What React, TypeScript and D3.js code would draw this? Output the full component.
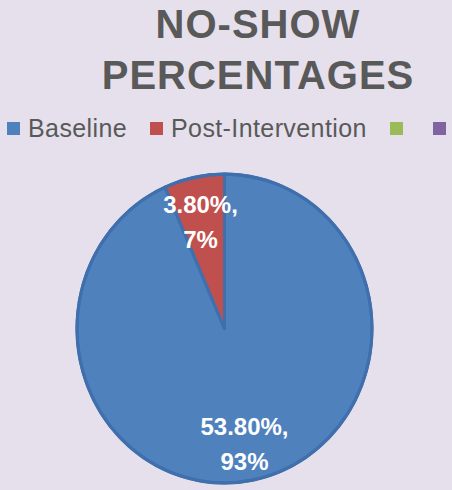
import React from "react";
import * as d3 from "d3";

const categories = ["Baseline", "Post-Intervention", "", ""];
const values = [53.8, 3.8];
const labelLines = [["53.80%,", "93%"], ["3.80%,", "7%"]];
const titleLines = ["NO-SHOW", "PERCENTAGES"];
const colors = ["#4F81BD", "#C0504D", "#9BBB59", "#8064A2"];

const W = 452, H = 490;
const cx = 224.5, cy = 328.5, r = 147.5, sy = 1.047;

export default function App() {
  const pie = d3.pie<number>().sort(null).value((d) => d)(values);
  const arc = d3.arc<d3.PieArcDatum<number>>().innerRadius(0).outerRadius(r);
  const legendX = [7, 150, 390, 433];
  const legendTextX = [28, 171];
  // label positions via arc centroids
  const labelArc = d3.arc<d3.PieArcDatum<number>>().innerRadius(r * 0.8).outerRadius(r * 0.8);
  return (
    <svg width={W} height={H} style={{ position: "absolute", left: 0, top: 0 }} fontFamily="'Liberation Sans', Arial, sans-serif">
      <rect width={W} height={H} fill="#E5E0EC" />
      {titleLines.map((t, i) => (
        <text key={t} x={258} y={38 + i * 51} textAnchor="middle" fontSize={40} fontWeight="bold" fill="#595959" letterSpacing={1}>
          {t}
        </text>
      ))}
      {categories.map((c, i) => (
        <g key={i}>
          <rect x={legendX[i]} y={122} width={13} height={13} fill={colors[i]} />
          {c && (
            <text x={legendTextX[i]} y={137} fontSize={25} fill="#595959" letterSpacing={0.4}>
              {c}
            </text>
          )}
        </g>
      ))}
      <g transform={`translate(${cx},${cy}) scale(1,${sy})`}>
        {pie.map((p, i) => (
          <path key={i} d={arc(p) || ""} fill={colors[i]} stroke="#3F6FAD" strokeWidth={3} strokeLinejoin="round" />
        ))}
        <circle r={r} fill="none" stroke="#3F6FAD" strokeWidth={3} />
      </g>
      {pie.map((p, i) => {
        const [x0, y0] = labelArc.centroid(p);
        const ax = i === 0 ? cx + 20 : cx - 24;
        const ay = i === 0 ? 435 : 213;
        void x0; void y0;
        return (
          <text key={i} textAnchor="middle" fontSize={24} fontWeight="bold" fill="#FFFFFF">
            {labelLines[i].map((l, j) => (
              <tspan key={j} x={ax + (j === 0 ? 0 : 0)} y={ay + j * 35}>{l}</tspan>
            ))}
          </text>
        );
      })}
    </svg>
  );
}
